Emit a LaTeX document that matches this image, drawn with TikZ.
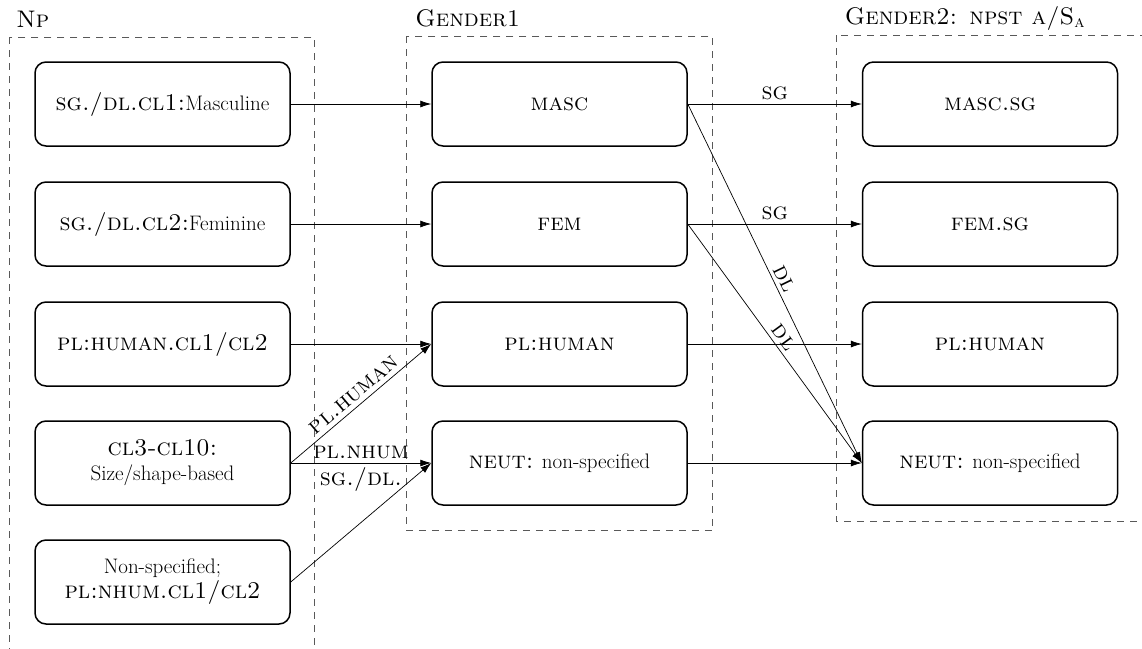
\documentclass[tikz,border=0pt]{standalone}
\usetikzlibrary{arrows.meta}
% gloss abbreviations in slightly enlarged small capitals
\newcommand{\smcp}[1]{{\fontsize{24}{25}\selectfont\scshape #1}}
\begin{document}
\begin{tikzpicture}[x=1pt,y=-1pt,
  every node/.style={font=\fontsize{21}{25}\selectfont},
  cat/.style={draw, line width=1.5pt, rounded corners=11pt, fill=white,
    minimum width=255pt, minimum height=84pt, align=center, inner sep=2pt},
  group/.style={draw=black!65, line width=1pt, dash pattern=on 7pt off 6pt},
  grouptitle/.style={anchor=base west, inner sep=0pt},
  conn/.style={-{Latex[length=11pt,width=7pt]}, line width=0.7pt},
  lab/.style={midway, inner sep=4pt}]
\useasboundingbox (0,0) rectangle (1142,648);

% noun phrase categories
\node[cat] (l1) at (162.5,104) {\smcp{sg./dl.cl1:}Masculine};
\node[cat] (l2) at (162.5,224) {\smcp{sg./dl.cl2:}Feminine};
\node[cat] (l3) at (162.5,344) {\smcp{pl:human.cl1/cl2}};
\node[cat] (l4) at (162.5,463) {\smcp{cl3-cl10:}\\Size/shape-based};
\node[cat] (l5) at (162.5,582) {Non-specified;\\\smcp{pl:nhum.cl1/cl2}};

% first gender agreement
\node[cat] (m1) at (559.5,104) {\smcp{masc}};
\node[cat] (m2) at (559.5,224) {\smcp{fem}};
\node[cat] (m3) at (559.5,344) {\smcp{pl:human}};
\node[cat] (m4) at (559.5,463) {\smcp{neut:} non-specified};

% second gender agreement
\node[cat] (r1) at (990,104) {\smcp{masc.sg}};
\node[cat] (r2) at (990,224) {\smcp{fem.sg}};
\node[cat] (r3) at (990,344) {\smcp{pl:human}};
\node[cat] (r4) at (990,463) {\smcp{neut:} non-specified};

% dashed groups
\coordinate (gl1) at ([shift={(-25,-24)}]l1.north west);
\coordinate (gl2) at ([shift={(24,25)}]l5.south east);
\coordinate (gm1) at ([shift={(-25,-25)}]m1.north west);
\coordinate (gm2) at ([shift={(25,25)}]m4.south east);
\coordinate (gr1) at ([shift={(-25,-26)}]r1.north west);
\coordinate (gr2) at ([shift={(24,16)}]r4.south east);
\draw[group] (gl1) rectangle (gl2);
\draw[group] (gm1) rectangle (gm2);
\draw[group] (gr1) rectangle (gr2);

\node[grouptitle] (tl) at ([shift={(7,-10)}]gl1) {\smcp{Np}};
\node[grouptitle] (tm) at ([shift={(9,-10)}]gm1) {\smcp{Gender1}};
\node[grouptitle] (tr) at ([shift={(8,-11)}]gr1) {\smcp{Gender2: npst a/S\textsubscript{a}}};

% first mapping
\draw[conn] (l1.east) -- (m1.west);
\draw[conn] (l2.east) -- (m2.west);
\draw[conn] (l3.east) -- (m3.west);
\draw[conn] (l4.east) -- node[lab, above, sloped] {\smcp{pl.human}} (m3.west);
\draw[conn] (l4.east) -- node[lab, above] {\smcp{pl.nhum}} node[lab, below] {\smcp{sg./dl.}} (m4.west);
\draw[conn] (l5.east) -- (m4.west);

% second mapping
\draw[conn] (m1.east) -- node[lab, above] {\smcp{sg}} (r1.west);
\draw[conn] (m1.east) -- node[lab, above, sloped] {\smcp{dl}} (r4.west);
\draw[conn] (m2.east) -- node[lab, above] {\smcp{sg}} (r2.west);
\draw[conn] (m2.east) -- node[lab, above, sloped] {\smcp{dl}} (r4.west);
\draw[conn] (m3.east) -- (r3.west);
\draw[conn] (m4.east) -- (r4.west);
\end{tikzpicture}
\end{document}
